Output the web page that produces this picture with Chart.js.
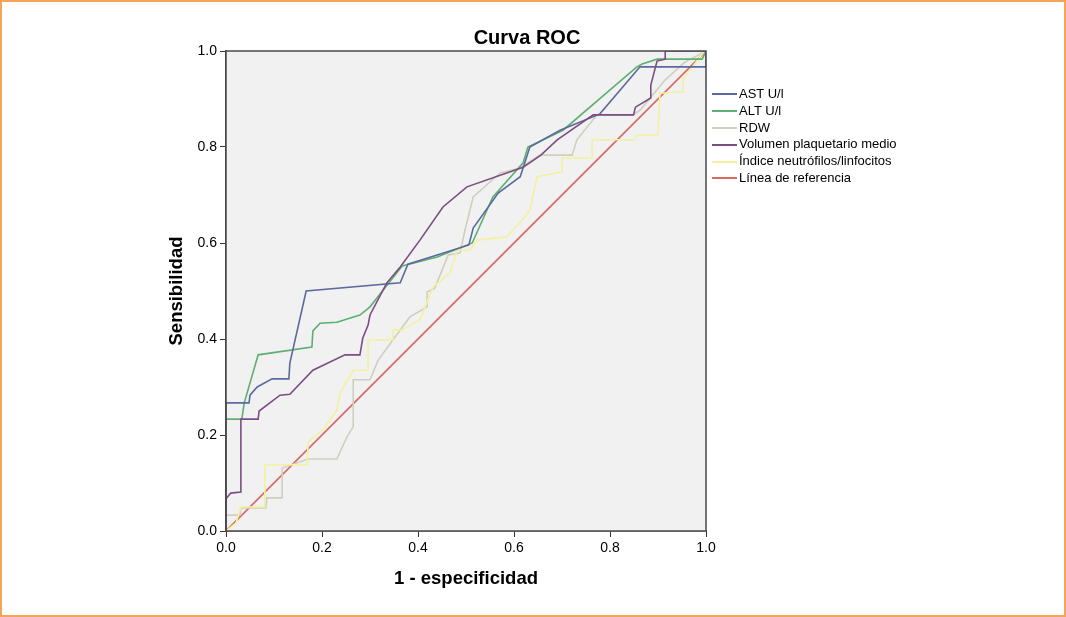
<!DOCTYPE html>
<html><head><meta charset="utf-8">
<script src="https://cdn.jsdelivr.net/npm/chart.js@4"></script>
<style>
html,body{margin:0;padding:0;background:#fff;}
#wrap{position:relative;width:1066px;height:617px;overflow:hidden;background:#fff;}
#frame{position:absolute;left:0;top:0;width:1062px;height:613px;border:2px solid #f5a55a;pointer-events:none;}
#title{position:absolute;top:26px;left:427px;width:200px;text-align:center;font:bold 20px "Liberation Sans",Arial,sans-serif;color:#000;}
#legend{position:absolute;left:712px;top:86px;font:13px "Liberation Sans",Arial,sans-serif;color:#000;}
#legend .row{height:16.8px;line-height:16.8px;white-space:nowrap;display:flex;align-items:center;}
#legend .sw{display:inline-block;width:25px;height:2px;margin-right:2px;}
canvas{position:absolute;left:0;top:0;}
</style></head>
<body>
<div id="wrap">
<canvas id="c" width="1066" height="617"></canvas>
<div id="title">Curva ROC</div>
<div id="legend"></div>
<div id="frame"></div>
</div>
<script>
// Series names & colours
const seriesNames = ["AST U/l", "ALT U/l", "RDW", "Volumen plaquetario medio", "Índice neutrófilos/linfocitos", "Línea de referencia"];
const seriesColors = ["#5b6a9e", "#5fae72", "#cfcfbd", "#7b4d82", "#f3f0a0", "#d56a62"];

// 1 - especificidad (x) and Sensibilidad (y)
const astX = [0, 0, .048, .05, .065, .096, .131, .133, .167, .363, .379, .44, .506, .515, .567, .613, .633, .696, .779, .8625, 1, 1];
const astY = [0, .267, .267, .283, .30, .317, .317, .35, .50, .517, .556, .575, .596, .631, .704, .738, .80, .835, .869, .967, .967, 1];

const altX = [0, 0, .033, .038, .067, .179, .181, .196, .231, .279, .3, .367, .44, .513, .556, .619, .629, .702, .856, .867, .898, .992, 1];
const altY = [0, .233, .233, .267, .367, .383, .417, .433, .435, .450, .467, .552, .571, .60, .696, .767, .80, .835, .967, .973, .983, .983, 1];

const rdwX = [0, 0, .029, .031, .083, .085, .117, .117, .171, .231, .252, .265, .265, .3, .317, .383, .419, .419, .435, .463, .4875, .498, .515, .571, .6125, .654, .721, .731, .773, .848, .863, .915, .956, 1];
const rdwY = [0, .033, .033, .048, .048, .069, .069, .131, .15, .15, .196, .217, .315, .315, .356, .446, .467, .498, .506, .575, .579, .627, .696, .746, .756, .783, .783, .815, .867, .867, .877, .94, .977, 1];

const vpmX = [0, 0, .01, .031, .031, .067, .069, .1125, .133, .181, .248, .279, .285, .296, .3, .335, .363, .404, .452, .502, .619, .656, .69, .765, .849, .853, .885, .885, .898, .915, .915, 1];
const vpmY = [0, .067, .079, .081, .233, .233, .25, .283, .285, .335, .367, .367, .402, .429, .45, .517, .55, .606, .675, .717, .758, .783, .815, .867, .867, .883, .902, .929, .979, .983, 1, 1];

const nlX = [0, .021, .031, .081, .081, .169, .171, .2, .217, .231, .238, .265, .296, .296, .348, .348, .367, .404, .431, .467, .481, .508, .523, .585, .617, .633, .648, .7, .7, .763, .763, .852, .856, .9, .904, .952, .952, .963, .994, 1];
const nlY = [0, .017, .05, .05, .138, .138, .185, .21, .231, .252, .288, .335, .335, .398, .398, .419, .419, .44, .508, .538, .585, .585, .606, .613, .648, .669, .738, .748, .777, .777, .815, .815, .825, .825, .912, .915, .94, .956, .996, 1];

const refX = [0, 1];
const refY = [0, 1];

const tickValues = [0, 0.2, 0.4, 0.6, 0.8, 1.0];

const allX = [astX, altX, rdwX, vpmX, nlX, refX];
const allY = [astY, altY, rdwY, vpmY, nlY, refY];

const datasets = seriesNames.map((n, i) => ({
  label: n,
  data: allX[i].map((x, k) => ({x: x, y: allY[i][k]})),
  borderColor: seriesColors[i],
  backgroundColor: seriesColors[i],
  borderWidth: 1.6,
  pointRadius: 0,
  showLine: true,
  tension: 0,
  fill: false,
  order: [2, 3, 5, 1, 4, 6][i]
}));

// HTML legend
const lg = document.getElementById('legend');
seriesNames.forEach((n, i) => {
  const r = document.createElement('div'); r.className = 'row';
  const s = document.createElement('span'); s.className = 'sw'; s.style.background = seriesColors[i];
  r.appendChild(s); r.appendChild(document.createTextNode(n)); lg.appendChild(r);
});

const plotDeco = {
  id: 'plotDeco',
  beforeDatasetsDraw(chart) {
    const {ctx, chartArea: a} = chart;
    ctx.save(); ctx.fillStyle = '#f1f1f1';
    ctx.fillRect(a.left, a.top, a.right - a.left, a.bottom - a.top);
    ctx.restore();
  },
  afterDatasetsDraw(chart) {
    const {ctx, chartArea: a} = chart;
    ctx.save(); ctx.strokeStyle = '#4a4a4a'; ctx.lineWidth = 1.5;
    ctx.strokeRect(a.left, a.top, a.right - a.left, a.bottom - a.top);
    ctx.restore();
  }
};

const fontFam = '"Liberation Sans", Arial, sans-serif';
function axis(titleText, isX) {
  return {
    type: 'linear', min: 0, max: 1,
    afterBuildTicks: s => { s.ticks = tickValues.map(v => ({value: v})); },
    ticks: { callback: v => Number(v).toFixed(1), color: '#000', font: {family: fontFam, size: 14}, padding: 3, autoSkip: false, maxRotation: 0 },
    grid: { drawOnChartArea: false, drawTicks: true, tickLength: 6, color: '#333', lineWidth: 1 },
    border: { display: true, color: '#4a4a4a', width: 1.5 },
    title: { display: true, text: titleText, color: '#000', font: {family: fontFam, size: 18.5, weight: 'bold'}, padding: 0 },
    afterFit: s => { if (isX) s.height = 59; else s.width = 60; }
  };
}

new Chart(document.getElementById('c'), {
  type: 'scatter',
  data: { datasets },
  options: {
    responsive: false, animation: false,
    layout: { padding: { left: 166, right: 360, top: 51, bottom: 27 } },
    plugins: { legend: { display: false }, title: { display: false }, tooltip: { enabled: false } },
    scales: { x: axis('1 - especificidad', true), y: axis('Sensibilidad', false) }
  },
  plugins: [plotDeco]
});
</script>
</body></html>
